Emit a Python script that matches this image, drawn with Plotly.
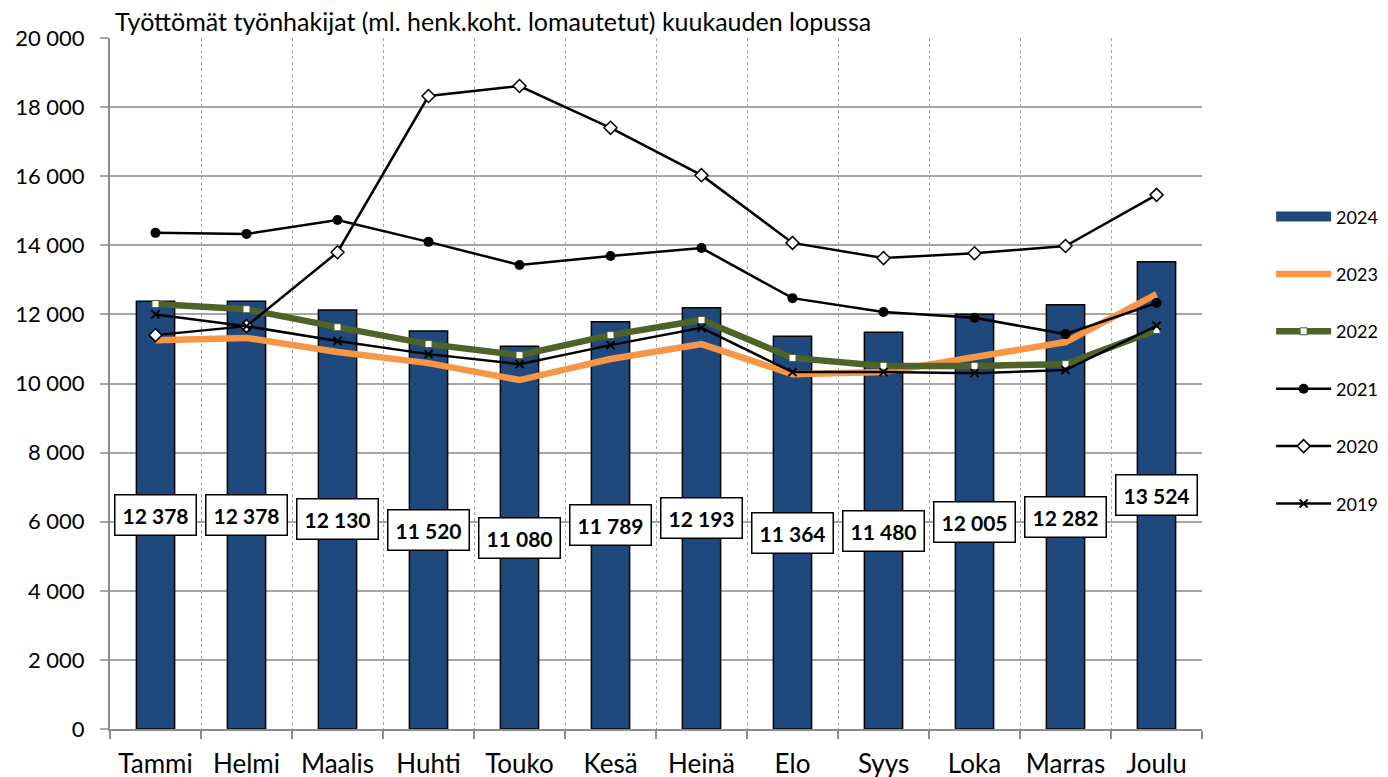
import plotly.graph_objects as go

months = ["Tammi", "Helmi", "Maalis", "Huhti", "Touko", "Kesä",
          "Heinä", "Elo", "Syys", "Loka", "Marras", "Joulu"]

v2024 = [12378, 12378, 12130, 11520, 11080, 11789, 12193, 11364, 11480, 12005, 12282, 13524]
v2023 = [11250, 11320, 10910, 10590, 10100, 10710, 11140, 10270, 10330, 10770, 11200, 12590]
v2022 = [12300, 12150, 11630, 11140, 10820, 11400, 11840, 10740, 10510, 10510, 10560, 11550]
v2021 = [14360, 14330, 14730, 14100, 13430, 13690, 13920, 12470, 12070, 11900, 11430, 12330]
v2020 = [11400, 11660, 13800, 18320, 18610, 17400, 16030, 14070, 13630, 13770, 13980, 15460]
v2019 = [12000, 11660, 11230, 10850, 10560, 11110, 11610, 10330, 10330, 10300, 10390, 11670]

FONT = "Lato"
BLUE = "#1F497D"

fig = go.Figure()

fig.add_trace(go.Bar(
    x=months, y=v2024, name="2024", showlegend=False,
    marker=dict(color=BLUE, line=dict(color="black", width=1.5)),
    width=0.42,
))
# legend entry for the bars: a wide block like the original
fig.add_trace(go.Scatter(
    x=[None], y=[None], name="2024", legendgroup="a", mode="lines",
    line=dict(color=BLUE, width=12),
))
fig.add_trace(go.Scatter(
    x=months, y=v2023, name="2023", legendgroup="b", mode="lines",
    line=dict(color="#F79646", width=6.5),
))
fig.add_trace(go.Scatter(
    x=months, y=v2022, name="2022", legendgroup="c", mode="lines+markers",
    line=dict(color="#4F6228", width=6.5),
    marker=dict(symbol="square", size=7, color="white", line=dict(color="#4F6228", width=1)),
))
fig.add_trace(go.Scatter(
    x=months, y=v2021, name="2021", legendgroup="d", mode="lines+markers",
    line=dict(color="black", width=2.5),
    marker=dict(symbol="circle", size=10, color="black"),
))
fig.add_trace(go.Scatter(
    x=months, y=v2020, name="2020", legendgroup="e", mode="lines+markers",
    line=dict(color="black", width=2.5),
    marker=dict(symbol="diamond", size=10, color="white", line=dict(color="black", width=1.5)),
))
fig.add_trace(go.Scatter(
    x=months, y=v2019, name="2019", legendgroup="f", mode="lines+markers",
    line=dict(color="black", width=2.5),
    marker=dict(symbol="x-thin", size=8, color="black", line=dict(color="black", width=2)),
))

# value boxes in the middle of each bar
for m, v in zip(months, v2024):
    fig.add_annotation(
        x=m, y=v / 2, text=f"{v:,}".replace(",", " "), showarrow=False,
        font=dict(family=FONT, size=21, color="black", weight="bold"),
        bgcolor="white", bordercolor="black", borderwidth=1.5, borderpad=7,
    )

# the page body adds an 8px offset, margins are set for that
fig.update_layout(
    width=1388, height=777,
    paper_bgcolor="white", plot_bgcolor="white",
    margin=dict(l=102, r=194, t=30, b=56, autoexpand=False),
    font=dict(family=FONT, color="black"),
    separators=". ",
    title=dict(
        text="Työttömät työnhakijat (ml. henk.koht. lomautetut) kuukauden lopussa",
        x=107 / 1388, xanchor="left", xref="container",
        y=1 - 14 / 777, yanchor="middle", yref="container",
        font=dict(family=FONT, size=25, color="black"),
        automargin=False,
    ),
    bargap=0.58,
    showlegend=True,
    legend=dict(
        x=1.0633, xanchor="left", y=0.768, yanchor="top",
        tracegroupgap=31, itemwidth=55,
        font=dict(family=FONT, size=18, color="black"),
        bgcolor="rgba(0,0,0,0)",
    ),
)

fig.update_xaxes(
    type="category", tickson="boundaries", automargin=False,
    showgrid=True, gridcolor="#A6A6A6", gridwidth=1.2, griddash="dot",
    showline=True, linecolor="#8C8C8C", linewidth=2,
    ticks="outside", ticklen=8, tickcolor="#8C8C8C", tickwidth=2,
    ticklabelstandoff=11, tickangle=0,
    tickfont=dict(family=FONT, size=26, color="black"),
    range=[-0.5, 11.5],
)
fig.update_yaxes(
    range=[0, 20000], tickvals=list(range(0, 20001, 2000)), tickformat=",d",
    automargin=False,
    showgrid=True, gridcolor="#A6A6A6", gridwidth=2,
    showline=True, linecolor="#8C8C8C", linewidth=2,
    ticks="outside", ticklen=8, tickcolor="#A6A6A6", tickwidth=2,
    ticklabelstandoff=11,
    tickfont=dict(family=FONT, size=22, color="black"),
    zeroline=False,
)

fig.write_html("out.html")
